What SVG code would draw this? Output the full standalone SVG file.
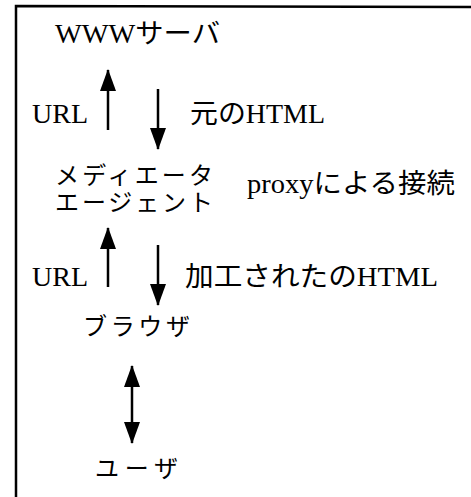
<svg xmlns="http://www.w3.org/2000/svg" width="471" height="497" viewBox="0 0 471 497">
<defs>
<style>
text{font-family:"Liberation Serif","Noto Sans CJK JP",serif;font-size:27px;fill:#000}
.k{font-size:24px}
.c line{stroke:#000;stroke-width:2.5;fill:none}
</style>
<marker id="ah" markerUnits="userSpaceOnUse" markerWidth="22" markerHeight="16" refX="21" refY="8" orient="auto-start-reverse" viewBox="0 0 22 16">
<path d="M0,0 L22,8 L0,16 z" fill="#000"/>
</marker>
</defs>
<rect width="471" height="497" fill="#fff"/>
<path d="M16,497 L16,6 L471,7" fill="none" stroke="#000" stroke-width="2.5"/>
<g id="www"><text x="55" y="43" textLength="165" lengthAdjust="spacingAndGlyphs">WWWサーバ</text></g>
<g id="mediator"><text class="k" x="55" y="184" textLength="158">メディエータ</text><text class="k" x="55" y="211" textLength="158">エージェント</text></g>
<g id="browser"><text class="k" x="83" y="335" textLength="107">ブラウザ</text></g>
<g id="user"><text class="k" x="95" y="477" textLength="83">ユーザ</text></g>
<g id="labels">
<text x="32" y="123" textLength="56" lengthAdjust="spacingAndGlyphs">URL</text>
<text x="190" y="123" textLength="135" lengthAdjust="spacingAndGlyphs">元のHTML</text>
<text x="247" y="193" textLength="208" lengthAdjust="spacingAndGlyphs">proxyによる接続</text>
<text x="32" y="286" textLength="56" lengthAdjust="spacingAndGlyphs">URL</text>
<text x="185" y="286" textLength="253" lengthAdjust="spacingAndGlyphs">加工されたのHTML</text>
</g>
<g class="c" id="connectors">
<line x1="108" y1="130" x2="108" y2="70" marker-end="url(#ah)"/>
<line x1="158" y1="89" x2="158" y2="149" marker-end="url(#ah)"/>
<line x1="108" y1="287" x2="108" y2="228" marker-end="url(#ah)"/>
<line x1="158" y1="245" x2="158" y2="305" marker-end="url(#ah)"/>
<line x1="132" y1="443" x2="132" y2="366" marker-start="url(#ah)" marker-end="url(#ah)"/>
</g>
</svg>
